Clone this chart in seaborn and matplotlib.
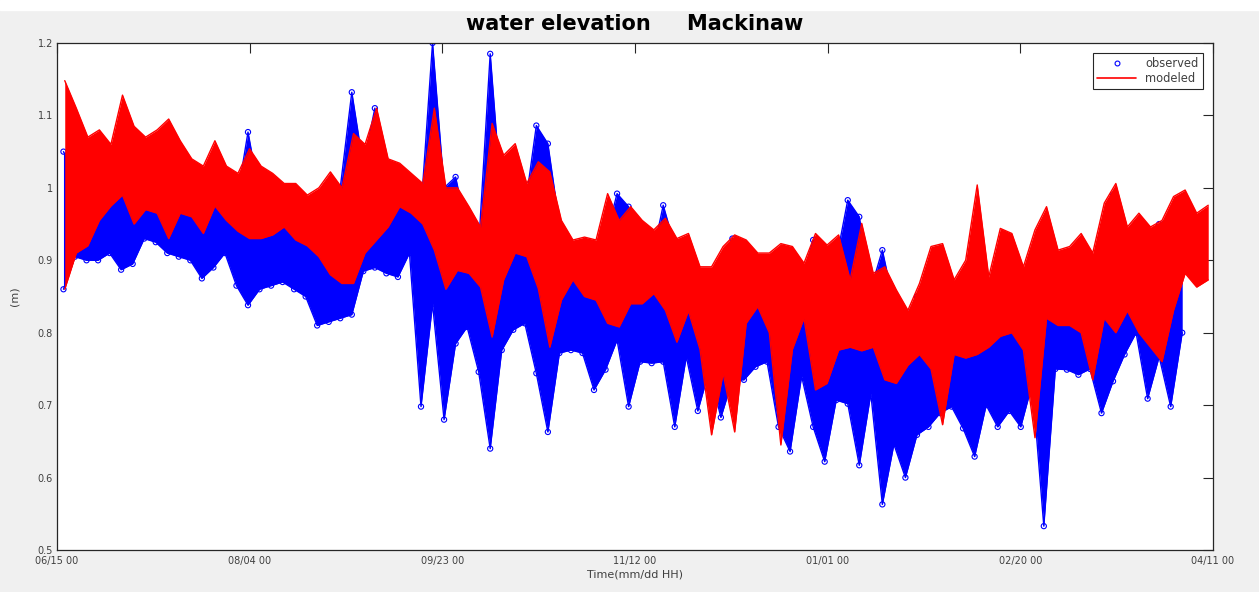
import matplotlib
matplotlib.use("Agg")
import matplotlib.pyplot as plt
import matplotlib.dates as mdates
from matplotlib.lines import Line2D
from matplotlib.patches import Rectangle
import numpy as np
import pandas as pd
import seaborn as sns

# envelopes, one pair per ~3 day window
modeled_hi = [
    1.148, 1.110, 1.070, 1.080, 1.060, 1.128, 1.085, 1.070, 1.080, 1.095,
    1.065, 1.040, 1.030, 1.065, 1.030, 1.020, 1.054, 1.030, 1.020, 1.006,
    1.006, 0.990, 1.000, 1.022, 1.000, 1.075, 1.060, 1.110, 1.040, 1.034,
    1.020, 1.006, 1.110, 1.000, 1.000, 0.974, 0.946, 1.089, 1.045, 1.061,
    1.006, 1.036, 1.022, 0.955, 0.928, 0.932, 0.928, 0.992, 0.955, 0.974,
    0.955, 0.942, 0.958, 0.930, 0.937, 0.891, 0.891, 0.919, 0.935, 0.928,
    0.910, 0.910, 0.923, 0.919, 0.896, 0.937, 0.921, 0.935, 0.873, 0.951,
    0.882, 0.891, 0.859, 0.831, 0.868, 0.919, 0.923, 0.873, 0.900, 1.004,
    0.877, 0.944, 0.937, 0.891, 0.942, 0.974, 0.914, 0.919, 0.937, 0.910,
    0.979, 1.006, 0.946, 0.965, 0.946, 0.955, 0.988, 0.997, 0.965, 0.976,
]
modeled_lo = [
    0.860, 0.910, 0.920, 0.955, 0.975, 0.990, 0.950, 0.970, 0.965, 0.930,
    0.965, 0.960, 0.937, 0.975, 0.955, 0.940, 0.930, 0.930, 0.935, 0.946,
    0.928, 0.920, 0.905, 0.880, 0.868, 0.868, 0.910, 0.928, 0.946, 0.974,
    0.965, 0.950, 0.914, 0.860, 0.886, 0.882, 0.863, 0.794, 0.873, 0.910,
    0.905, 0.861, 0.780, 0.845, 0.873, 0.850, 0.845, 0.813, 0.808, 0.840,
    0.840, 0.854, 0.831, 0.787, 0.830, 0.777, 0.659, 0.744, 0.663, 0.813,
    0.836, 0.800, 0.645, 0.777, 0.820, 0.721, 0.730, 0.776, 0.780, 0.775,
    0.780, 0.735, 0.730, 0.755, 0.770, 0.750, 0.673, 0.770, 0.765, 0.770,
    0.780, 0.795, 0.800, 0.776, 0.655, 0.820, 0.810, 0.810, 0.800, 0.735,
    0.820, 0.800, 0.830, 0.800, 0.780, 0.760, 0.831, 0.882, 0.863, 0.873,
]
observed_hi = [
    1.050, 1.020, 1.000, 1.010, 1.030, 1.090, 1.040, 1.020, 1.050, 1.040,
    1.020, 1.000, 1.000, 1.020, 1.000, 0.980, 1.077, 0.990, 0.980, 0.970,
    0.965, 0.960, 0.960, 0.970, 1.000, 1.132, 1.030, 1.110, 1.000, 0.990,
    0.980, 0.970, 1.200, 1.000, 1.015, 0.940, 0.920, 1.185, 0.980, 0.990,
    0.970, 1.086, 1.061, 0.950, 0.900, 0.900, 0.900, 0.930, 0.992, 0.974,
    0.920, 0.900, 0.976, 0.920, 0.900, 0.870, 0.870, 0.880, 0.930, 0.900,
    0.900, 0.880, 0.900, 0.880, 0.870, 0.928, 0.900, 0.900, 0.983, 0.960,
    0.860, 0.914, 0.840, 0.820, 0.850, 0.880, 0.880, 0.860, 0.870, 0.880,
    0.860, 0.900, 0.880, 0.870, 0.900, 0.900, 0.880, 0.880, 0.900, 0.890,
    0.920, 0.990, 0.910, 0.920, 0.930, 0.950, 0.960, 0.900,
]
observed_lo = [
    0.860, 0.905, 0.900, 0.900, 0.910, 0.887, 0.895, 0.930, 0.925, 0.910,
    0.905, 0.900, 0.875, 0.890, 0.910, 0.865, 0.838, 0.860, 0.865, 0.870,
    0.860, 0.850, 0.810, 0.815, 0.820, 0.825, 0.885, 0.890, 0.882, 0.877,
    0.910, 0.698, 0.840, 0.680, 0.785, 0.808, 0.746, 0.640, 0.776, 0.804,
    0.813, 0.744, 0.663, 0.772, 0.776, 0.772, 0.721, 0.749, 0.790, 0.698,
    0.760, 0.758, 0.760, 0.670, 0.767, 0.692, 0.749, 0.683, 0.735, 0.735,
    0.753, 0.760, 0.670, 0.636, 0.740, 0.670, 0.622, 0.707, 0.702, 0.617,
    0.716, 0.563, 0.646, 0.600, 0.659, 0.670, 0.689, 0.698, 0.668, 0.629,
    0.700, 0.670, 0.692, 0.670, 0.730, 0.533, 0.750, 0.749, 0.742, 0.750,
    0.689, 0.733, 0.770, 0.800, 0.709, 0.767, 0.698, 0.800,
]
x_ticks = pd.date_range("2017-06-15", periods=7, freq="50D")

# window centres (first/last window as seen on the chart)
mod_t = pd.date_range("2017-06-17 00:00", "2018-04-09 18:00", periods=len(modeled_hi))
obs_t = pd.date_range("2017-06-16 16:00", "2018-04-03 00:00", periods=len(observed_hi))
df_mod = pd.DataFrame({"t": mod_t, "hi": modeled_hi, "lo": modeled_lo})
df_obs = pd.DataFrame({"t": obs_t, "hi": observed_hi, "lo": observed_lo})

sns.set_style("white")
plt.rcParams["font.family"] = ["DejaVu Sans"]
small = 7

fig = plt.figure(figsize=(12.59, 5.92), dpi=100, facecolor="#f0f0f0")
fig.patches.append(Rectangle((0, 1 - 10 / 592), 1, 10 / 592, transform=fig.transFigure,
                             color="white", zorder=-1))
ax = fig.add_axes([0.0453, 0.0709, 0.9182, 0.8565])


def draw_band(df, color, zorder, markers):
    # the hourly trace is too dense to show single swings: draw it as a band
    ax.fill_between(df["t"], df["lo"], df["hi"], color=color, lw=0, zorder=zorder)
    for col in ("hi", "lo"):
        sns.lineplot(data=df, x="t", y=col, ax=ax, color=color, lw=1.0,
                     estimator=None, zorder=zorder)
        if markers:
            sns.scatterplot(data=df, x="t", y=col, ax=ax, marker="o", s=14,
                            facecolor="none", edgecolor=color, linewidth=0.8,
                            zorder=zorder, legend=False)


draw_band(df_obs, "blue", 2, True)
draw_band(df_mod, "red", 3, False)

ax.set_xlim(x_ticks[0], x_ticks[-1])
ax.set_ylim(0.5, 1.2)
ax.set_xticks(x_ticks)
ax.xaxis.set_major_formatter(mdates.DateFormatter("%m/%d %H"))
ax.set_yticks(np.arange(0.5, 1.21, 0.1))
ax.yaxis.set_major_formatter(plt.FormatStrFormatter("%g"))
ax.tick_params(direction="in", length=7, width=0.8, top=True, right=True,
               labelsize=small, colors="#262626", labelcolor="#404040")
ax.tick_params(axis="x", pad=4)
ax.tick_params(axis="y", pad=3)
for s in ax.spines.values():
    s.set_color("#262626")
    s.set_linewidth(0.9)

ax.set_xlabel("Time(mm/dd HH)", fontsize=8, color="#404040", labelpad=3)
ax.set_ylabel("(m)", fontsize=8, color="#404040", labelpad=13)
ax.set_title("water elevation     Mackinaw", fontsize=15, fontweight="bold",
             color="black", pad=9)

handles = [
    Line2D([], [], ls="none", marker="o", markersize=3.5, markerfacecolor="none",
           markeredgecolor="blue", markeredgewidth=0.8),
    Line2D([], [], color="red", lw=1.2),
]
leg = ax.legend(handles, ["observed", "modeled"], loc="upper right", fontsize=8.3,
                frameon=True, fancybox=False, edgecolor="#262626", framealpha=1,
                borderaxespad=0.9, handlelength=3.4, labelspacing=0.15, borderpad=0.35)
leg.get_frame().set_linewidth(0.8)
for txt in leg.get_texts():
    txt.set_color("#404040")

fig.savefig("out.png", dpi=100, facecolor=fig.get_facecolor())
